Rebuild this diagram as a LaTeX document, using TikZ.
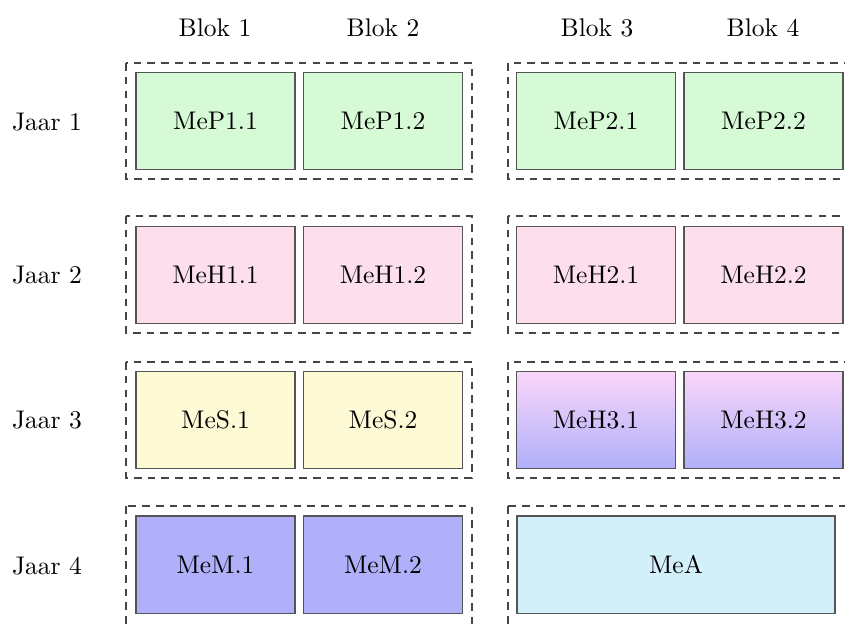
\documentclass[tikz,border=0pt]{standalone}
\usetikzlibrary{positioning}

\definecolor{pgreen}{RGB}{214,250,214}
\definecolor{ppink}{RGB}{252,222,236}
\definecolor{pyellow}{RGB}{253,250,213}
\definecolor{pviolet}{RGB}{176,176,250}
\definecolor{plilac}{RGB}{250,214,250}
\definecolor{pblue}{RGB}{211,239,250}
\definecolor{pedge}{RGB}{85,85,85}
\definecolor{pdash}{RGB}{70,70,70}

\tikzset{
  course/.style={draw=pedge, line width=0.45pt, minimum width=62.4pt,
    minimum height=38.1pt, inner sep=0pt, anchor=center},
  wide/.style={course, minimum width=124.7pt},
  semester/.style={draw=pdash, line width=0.45pt, dash pattern=on 3pt off 2.4pt},
  heading/.style={inner sep=0pt, anchor=center}
}

\begin{document}
\begin{tikzpicture}[x=0.3922pt, y=-0.3922pt]
  \useasboundingbox (0,0) rectangle (845,623);
  \clip (0,0) rectangle (845,623);

  % column and row headings
  \node[heading] (b1) at (215,28) {Blok 1};
  \node[heading] (b2) at (383,28) {Blok 2};
  \node[heading] (b3) at (597,28) {Blok 3};
  \node[heading] (b4) at (763,28) {Blok 4};
  \node[heading] (j1) at (47,122) {Jaar 1};
  \node[heading] (j2) at (47,275) {Jaar 2};
  \node[heading] (j3) at (47,420) {Jaar 3};
  \node[heading] (j4) at (47,566) {Jaar 4};

  % semester frames
  \draw[semester] (126,63) rectangle (472,179);
  \draw[semester] (508,63) rectangle (853,179);
  \draw[semester] (126,216) rectangle (472,333);
  \draw[semester] (508,216) rectangle (853,333);
  \draw[semester] (126,362) rectangle (472,478);
  \draw[semester] (508,362) rectangle (853,478);
  \draw[semester] (126,506) rectangle (472,640);
  \draw[semester] (508,506) rectangle (853,640);

  % year 1
  \node[course, fill=pgreen] (p11) at (215.5,121) {MeP1.1};
  \node[course, fill=pgreen] (p12) at (383,121) {MeP1.2};
  \node[course, fill=pgreen] (p21) at (596,121) {MeP2.1};
  \node[course, fill=pgreen] (p22) at (763.5,121) {MeP2.2};

  % year 2
  \node[course, fill=ppink] (h11) at (215.5,275) {MeH1.1};
  \node[course, fill=ppink] (h12) at (383,275) {MeH1.2};
  \node[course, fill=ppink] (h21) at (596,275) {MeH2.1};
  \node[course, fill=ppink] (h22) at (763.5,275) {MeH2.2};

  % year 3
  \node[course, fill=pyellow] (s1) at (215.5,420) {MeS.1};
  \node[course, fill=pyellow] (s2) at (383,420) {MeS.2};
  \node[course, top color=plilac, bottom color=pviolet] (h31) at (596,420) {MeH3.1};
  \node[course, top color=plilac, bottom color=pviolet] (h32) at (763.5,420) {MeH3.2};

  % year 4
  \node[course, fill=pviolet] (m1) at (215.5,564.5) {MeM.1};
  \node[course, fill=pviolet] (m2) at (383,564.5) {MeM.2};
  \node[wide, fill=pblue] (mea) at (676,564.5) {MeA};
\end{tikzpicture}
\end{document}
